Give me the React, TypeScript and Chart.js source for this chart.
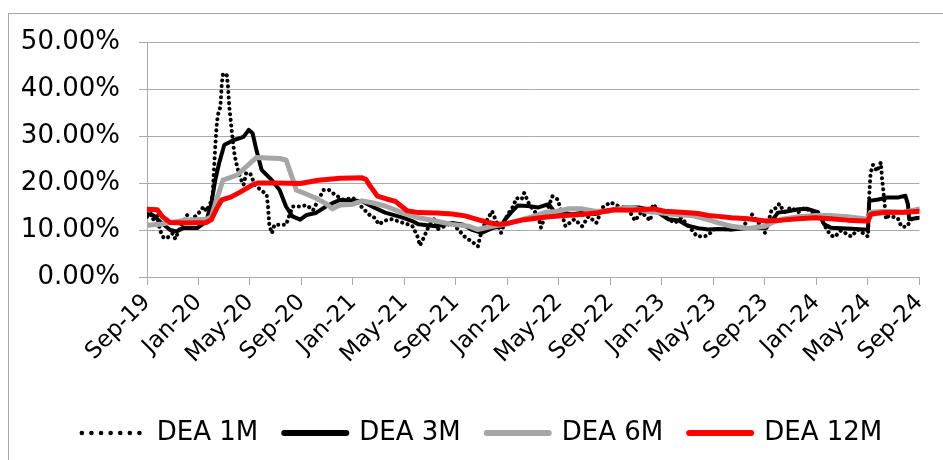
import { useEffect, useRef } from 'react';
import { Chart, registerables } from 'chart.js';

Chart.register(...registerables);

// x = months since Sep-2019, y = percent
const xLabels = ['Sep-19', 'Jan-20', 'May-20', 'Sep-20', 'Jan-21', 'May-21', 'Sep-21', 'Jan-22', 'May-22', 'Sep-22', 'Jan-23', 'May-23', 'Sep-23', 'Jan-24', 'May-24', 'Sep-24'];
const yTicks = [0, 10, 20, 30, 40, 50];

const dea1M: [number, number][] = [
  [0, 12.8], [0.3, 13.5], [0.5, 12.2], [0.8, 13.0], [1.0, 10.0], [1.3, 8.3], [1.6, 8.4], [2.0, 9.3], [2.2, 8.1], [2.6, 10.7],
  [3.1, 13.2], [3.4, 12.2], [3.9, 13.2], [4.4, 15.0], [4.6, 14.0], [4.9, 15.5], [5.1, 17.5], [5.2, 22.8], [5.3, 27.7], [5.4, 32.0],
  [5.5, 34.4], [5.7, 36.2], [5.8, 40.8], [5.9, 43.3], [6.2, 42.9], [6.3, 40.3], [6.35, 38.0], [6.4, 35.9], [6.5, 33.4], [6.6, 30.6],
  [6.8, 26.0], [7.0, 23.5], [7.2, 21.4], [7.5, 19.6], [7.7, 22.1], [8.0, 22.1], [8.4, 19.5], [9.3, 17.5], [9.4, 15.0], [9.5, 11.1],
  [9.7, 9.3], [9.9, 11.1], [10.3, 11.1], [10.8, 11.1], [11.3, 15.0], [11.9, 15.0], [12.4, 15.3], [12.9, 14.2], [13.7, 18.5], [14.1, 18.6],
  [14.6, 17.5], [15.2, 16.5], [16.0, 16.8], [17.0, 14.0], [17.4, 12.9], [17.7, 12.6], [18.0, 11.2], [18.5, 12.0], [19.0, 12.3], [19.8, 11.6],
  [20.6, 10.9], [21.0, 8.7], [21.2, 6.7], [21.5, 8.4], [21.9, 10.9], [22.3, 12.3], [22.6, 10.2], [23.7, 11.5], [24.7, 8.5], [25.3, 7.4],
  [25.7, 6.5], [26.0, 10.1], [26.8, 14.0], [27.5, 9.4], [28.0, 13.3], [28.4, 14.8], [28.7, 16.8], [29.1, 16.5], [29.3, 17.9], [29.7, 15.4],
  [30.4, 12.9], [30.6, 10.5], [31.2, 15.1], [31.5, 17.2], [31.9, 16.5], [32.5, 10.8], [33.2, 12.3], [33.8, 10.8], [34.3, 12.9], [34.9, 11.5],
  [35.4, 14.8], [36.0, 15.9], [36.6, 15.1], [37.4, 14.4], [37.9, 12.0], [38.4, 13.8], [39.1, 12.0], [39.3, 15.5], [40.0, 13.3], [40.5, 12.3],
  [41.0, 11.5], [41.5, 12.6], [42.3, 10.1], [42.7, 8.7], [43.2, 8.6], [43.6, 8.9], [44.0, 10.1], [44.4, 10.2], [45.4, 10.1], [46.2, 10.4],
  [47.0, 13.3], [47.5, 11.5], [48.0, 9.4], [48.3, 12.0], [48.5, 14.2], [49.0, 14.9], [49.1, 15.6], [49.5, 13.8], [50.0, 14.8], [50.6, 13.8],
  [51.1, 14.8], [51.6, 13.8], [52.1, 13.8], [52.8, 10.1], [53.1, 8.9], [53.4, 8.5], [53.9, 9.9], [54.7, 8.6], [55.2, 10.1], [56.0, 8.6],
  [56.1, 17.6], [56.15, 20.0], [56.2, 22.1], [56.4, 23.9], [56.7, 22.5], [57.0, 24.4], [57.1, 20.7], [57.2, 18.2], [57.4, 12.3], [57.6, 13.0],
  [58.3, 12.6], [58.6, 10.7], [59.0, 10.7], [59.4, 12.3], [59.9, 12.6],
];

const dea3M: [number, number][] = [
  [0, 13.4], [0.5, 13.1], [1.0, 11.8], [1.8, 10.0], [2.3, 9.7], [2.8, 10.4], [3.9, 10.4], [4.6, 11.8], [5.0, 15.7], [5.3, 20.6],
  [5.6, 24.2], [6.0, 28.1], [6.7, 29.1], [7.5, 29.8], [7.9, 31.3], [8.2, 30.6], [8.5, 27.0], [8.9, 22.8], [9.7, 20.6], [10.3, 18.5],
  [10.8, 15.0], [11.3, 12.9], [11.9, 12.2], [12.4, 13.2], [13.1, 13.6], [13.9, 15.0], [14.4, 15.7], [15.0, 16.4], [16.0, 16.3], [16.7, 16.1],
  [17.7, 14.7], [18.5, 13.7], [19.8, 12.7], [20.6, 11.9], [21.1, 11.2], [22.4, 10.8], [23.7, 11.5], [24.5, 11.2], [25.2, 10.1], [26.0, 9.4],
  [26.8, 10.4], [27.5, 10.8], [27.8, 12.2], [28.3, 13.8], [28.8, 15.2], [29.6, 15.1], [30.4, 14.8], [31.2, 15.5], [31.7, 13.7], [32.2, 13.8],
  [33.0, 13.3], [33.8, 13.7], [34.8, 13.4], [35.6, 14.1], [36.3, 14.4], [37.1, 14.8], [38.2, 14.8], [38.9, 14.4], [39.7, 13.7], [40.5, 12.3],
  [41.3, 12.0], [42.0, 10.9], [42.8, 10.4], [43.6, 10.1], [44.4, 10.2], [45.4, 10.1], [46.7, 10.4], [48.0, 10.4], [48.5, 11.8], [49.0, 13.7],
  [49.8, 14.0], [50.6, 14.4], [51.3, 14.5], [52.1, 13.8], [52.6, 11.2], [53.1, 10.5], [54.4, 10.3], [55.7, 10.1], [56.0, 10.1], [56.1, 16.2],
  [56.8, 16.5], [57.5, 16.9], [58.3, 16.9], [58.9, 17.3], [59.1, 15.5], [59.2, 12.3], [60.0, 12.6],
];

const dea6M: [number, number][] = [
  [0, 11.0], [1.0, 11.2], [1.8, 11.6], [3.0, 12.1], [4.6, 12.3], [5.0, 12.8], [5.4, 16.4], [5.9, 20.6], [7.0, 21.7], [8.0, 24.2],
  [8.5, 25.4], [10.3, 25.2], [10.8, 24.9], [11.3, 21.0], [11.6, 18.5], [12.5, 17.5], [13.1, 16.8], [13.9, 15.6], [14.4, 14.5], [15.0, 15.3],
  [16.0, 15.5], [16.7, 16.2], [17.5, 15.8], [18.5, 15.1], [19.8, 13.7], [21.1, 12.6], [22.4, 11.9], [23.7, 11.2], [25.0, 10.8], [25.7, 10.1],
  [26.8, 10.8], [27.8, 11.2], [28.8, 12.0], [29.9, 12.8], [30.9, 13.7], [31.9, 14.0], [32.7, 14.5], [33.8, 14.5], [34.8, 14.0], [35.8, 14.0],
  [36.6, 14.5], [37.6, 14.8], [38.7, 14.0], [39.7, 13.7], [41.0, 13.3], [42.3, 13.1], [43.3, 12.4], [44.4, 11.5], [45.4, 10.8], [46.7, 10.3],
  [48.0, 10.8], [48.5, 11.5], [49.3, 12.3], [50.6, 12.8], [51.9, 13.1], [53.1, 13.1], [54.4, 12.8], [55.7, 12.4], [56.0, 12.1], [56.2, 13.8],
  [57.3, 14.0], [58.8, 13.8], [60.0, 14.5],
];

const dea12M: [number, number][] = [
  [0, 14.4], [0.8, 14.3], [1.2, 12.8], [1.8, 11.6], [3.0, 11.5], [4.6, 11.6], [5.0, 12.2], [5.4, 14.5], [5.8, 16.4], [6.5, 17.0],
  [7.2, 18.0], [8.2, 19.6], [8.6, 20.0], [10.0, 20.0], [11.9, 19.9], [13.3, 20.6], [15.0, 21.0], [16.7, 21.1], [17.0, 20.8], [17.3, 19.5],
  [17.9, 17.2], [18.6, 16.6], [19.3, 16.1], [20.2, 14.1], [21.1, 13.7], [22.5, 13.6], [23.7, 13.4], [24.7, 13.0], [25.7, 12.2], [26.5, 11.6],
  [27.3, 11.2], [28.0, 11.4], [29.3, 12.2], [31.2, 12.8], [32.5, 13.1], [33.8, 13.3], [35.0, 13.7], [36.3, 14.3], [37.6, 14.2], [38.9, 14.4],
  [39.4, 14.5], [40.2, 14.0], [41.5, 13.8], [42.8, 13.5], [43.6, 13.1], [44.4, 12.9], [45.4, 12.6], [46.7, 12.4], [48.0, 11.9], [49.3, 12.1],
  [50.6, 12.4], [51.9, 12.6], [53.1, 12.4], [54.4, 12.1], [55.7, 11.9], [56.0, 11.9], [56.2, 13.3], [56.5, 13.5], [57.3, 13.7], [58.8, 13.8],
  [60.0, 14.0],
];

const seriesNames = ['DEA 1M', 'DEA 3M', 'DEA 6M', 'DEA 12M'];
const seriesColors = ['#000000', '#000000', '#a6a6a6', '#ff0000'];

const FONT = "'DejaVu Sans', sans-serif";
const GRID = '#aaaaaa';

const framePlugin = {
  id: 'frame',
  beforeDraw(chart: any) {
    const ctx = chart.ctx;
    ctx.save();
    ctx.fillStyle = '#ffffff';
    ctx.fillRect(0, 0, chart.width, chart.height);
    ctx.strokeStyle = '#a6a6a6';
    ctx.lineWidth = 1;
    ctx.strokeRect(8.5, 13.5, chart.width + 20, chart.height + 20);
    ctx.restore();
  },
};

// shift the legend box so it is centred like the reference
const legendShift = {
  id: 'legendShift',
  afterLayout(chart: any) {
    const lg = chart.legend;
    if (lg) {
      lg.left += 21;
      lg.right += 21;
    }
  },
};

const toPts = (arr: [number, number][]) => arr.map(([x, y]) => ({ x, y }));

export default function App() {
  const ref = useRef<HTMLCanvasElement | null>(null);

  useEffect(() => {
    if (!ref.current) return;
    const legendDash: number[][] = [[0.1, 9.5], [], [], []];
    const legendWidth = [4.5, 6, 6, 6];
    const chart = new Chart(ref.current, {
      type: 'line',
      data: {
        datasets: [
          {
            label: seriesNames[0], data: toPts(dea1M), borderColor: seriesColors[0], borderWidth: 4,
            borderDash: [0.1, 5.5], borderCapStyle: 'round', pointRadius: 0, tension: 0, order: 4,
          },
          {
            label: seriesNames[1], data: toPts(dea3M), borderColor: seriesColors[1], borderWidth: 4,
            borderJoinStyle: 'round', borderCapStyle: 'round', pointRadius: 0, tension: 0, order: 3,
          },
          {
            label: seriesNames[2], data: toPts(dea6M), borderColor: seriesColors[2], borderWidth: 5,
            borderJoinStyle: 'round', borderCapStyle: 'round', pointRadius: 0, tension: 0, order: 2,
          },
          {
            label: seriesNames[3], data: toPts(dea12M), borderColor: seriesColors[3], borderWidth: 5,
            borderJoinStyle: 'round', borderCapStyle: 'round', pointRadius: 0, tension: 0, order: 1,
          },
        ] as any,
      },
      options: {
        animation: false,
        responsive: false,
        layout: { padding: { left: 0, right: 21, top: 42, bottom: 4 } },
        plugins: {
          tooltip: { enabled: false },
          legend: {
            position: 'bottom',
            labels: {
              usePointStyle: true,
              pointStyleWidth: 62,
              padding: 26,
              color: '#000',
              font: { family: FONT, size: 26 },
              generateLabels: () =>
                seriesNames.map((name, i) => ({
                  text: name,
                  fillStyle: seriesColors[i],
                  strokeStyle: seriesColors[i],
                  lineWidth: legendWidth[i],
                  lineDash: legendDash[i],
                  lineCap: 'round',
                  pointStyle: 'line',
                  hidden: false,
                  datasetIndex: i,
                  fontColor: '#000',
                })) as any,
              sort: (a: any, b: any) => a.datasetIndex - b.datasetIndex,
            },
          },
        },
        scales: {
          x: {
            type: 'linear',
            min: 0,
            max: 60,
            afterFit: (s: any) => { s.height = 117; },
            grid: { drawOnChartArea: false, drawTicks: true, tickLength: 8, color: GRID, tickColor: GRID },
            border: { color: GRID, width: 1 },
            ticks: {
              stepSize: 4,
              autoSkip: false,
              maxRotation: 45,
              minRotation: 45,
              padding: 4,
              color: '#000',
              font: { family: FONT, size: 23 },
              callback: (v: any) => xLabels[Math.round(Number(v) / 4)] ?? '',
            },
          },
          y: {
            min: 0,
            max: 50,
            afterFit: (s: any) => { s.width = 147; },
            grid: { color: GRID, tickColor: GRID, tickLength: 8, drawTicks: true },
            border: { color: GRID, width: 1 },
            afterBuildTicks: (s: any) => { s.ticks = yTicks.map((v) => ({ value: v })); },
            ticks: {
              padding: 19,
              color: '#000',
              font: { family: FONT, size: 26 },
              callback: (v: any) => Number(v).toFixed(2) + '%',
            },
          },
        },
      },
      plugins: [framePlugin, legendShift],
    } as any);
    return () => chart.destroy();
  }, []);

  return (
    <div style={{ position: 'fixed', left: 0, top: 0, width: 943, height: 460, overflow: 'hidden', background: '#fff' }}>
      <canvas ref={ref} width={943} height={460} style={{ display: 'block' }} />
    </div>
  );
}
